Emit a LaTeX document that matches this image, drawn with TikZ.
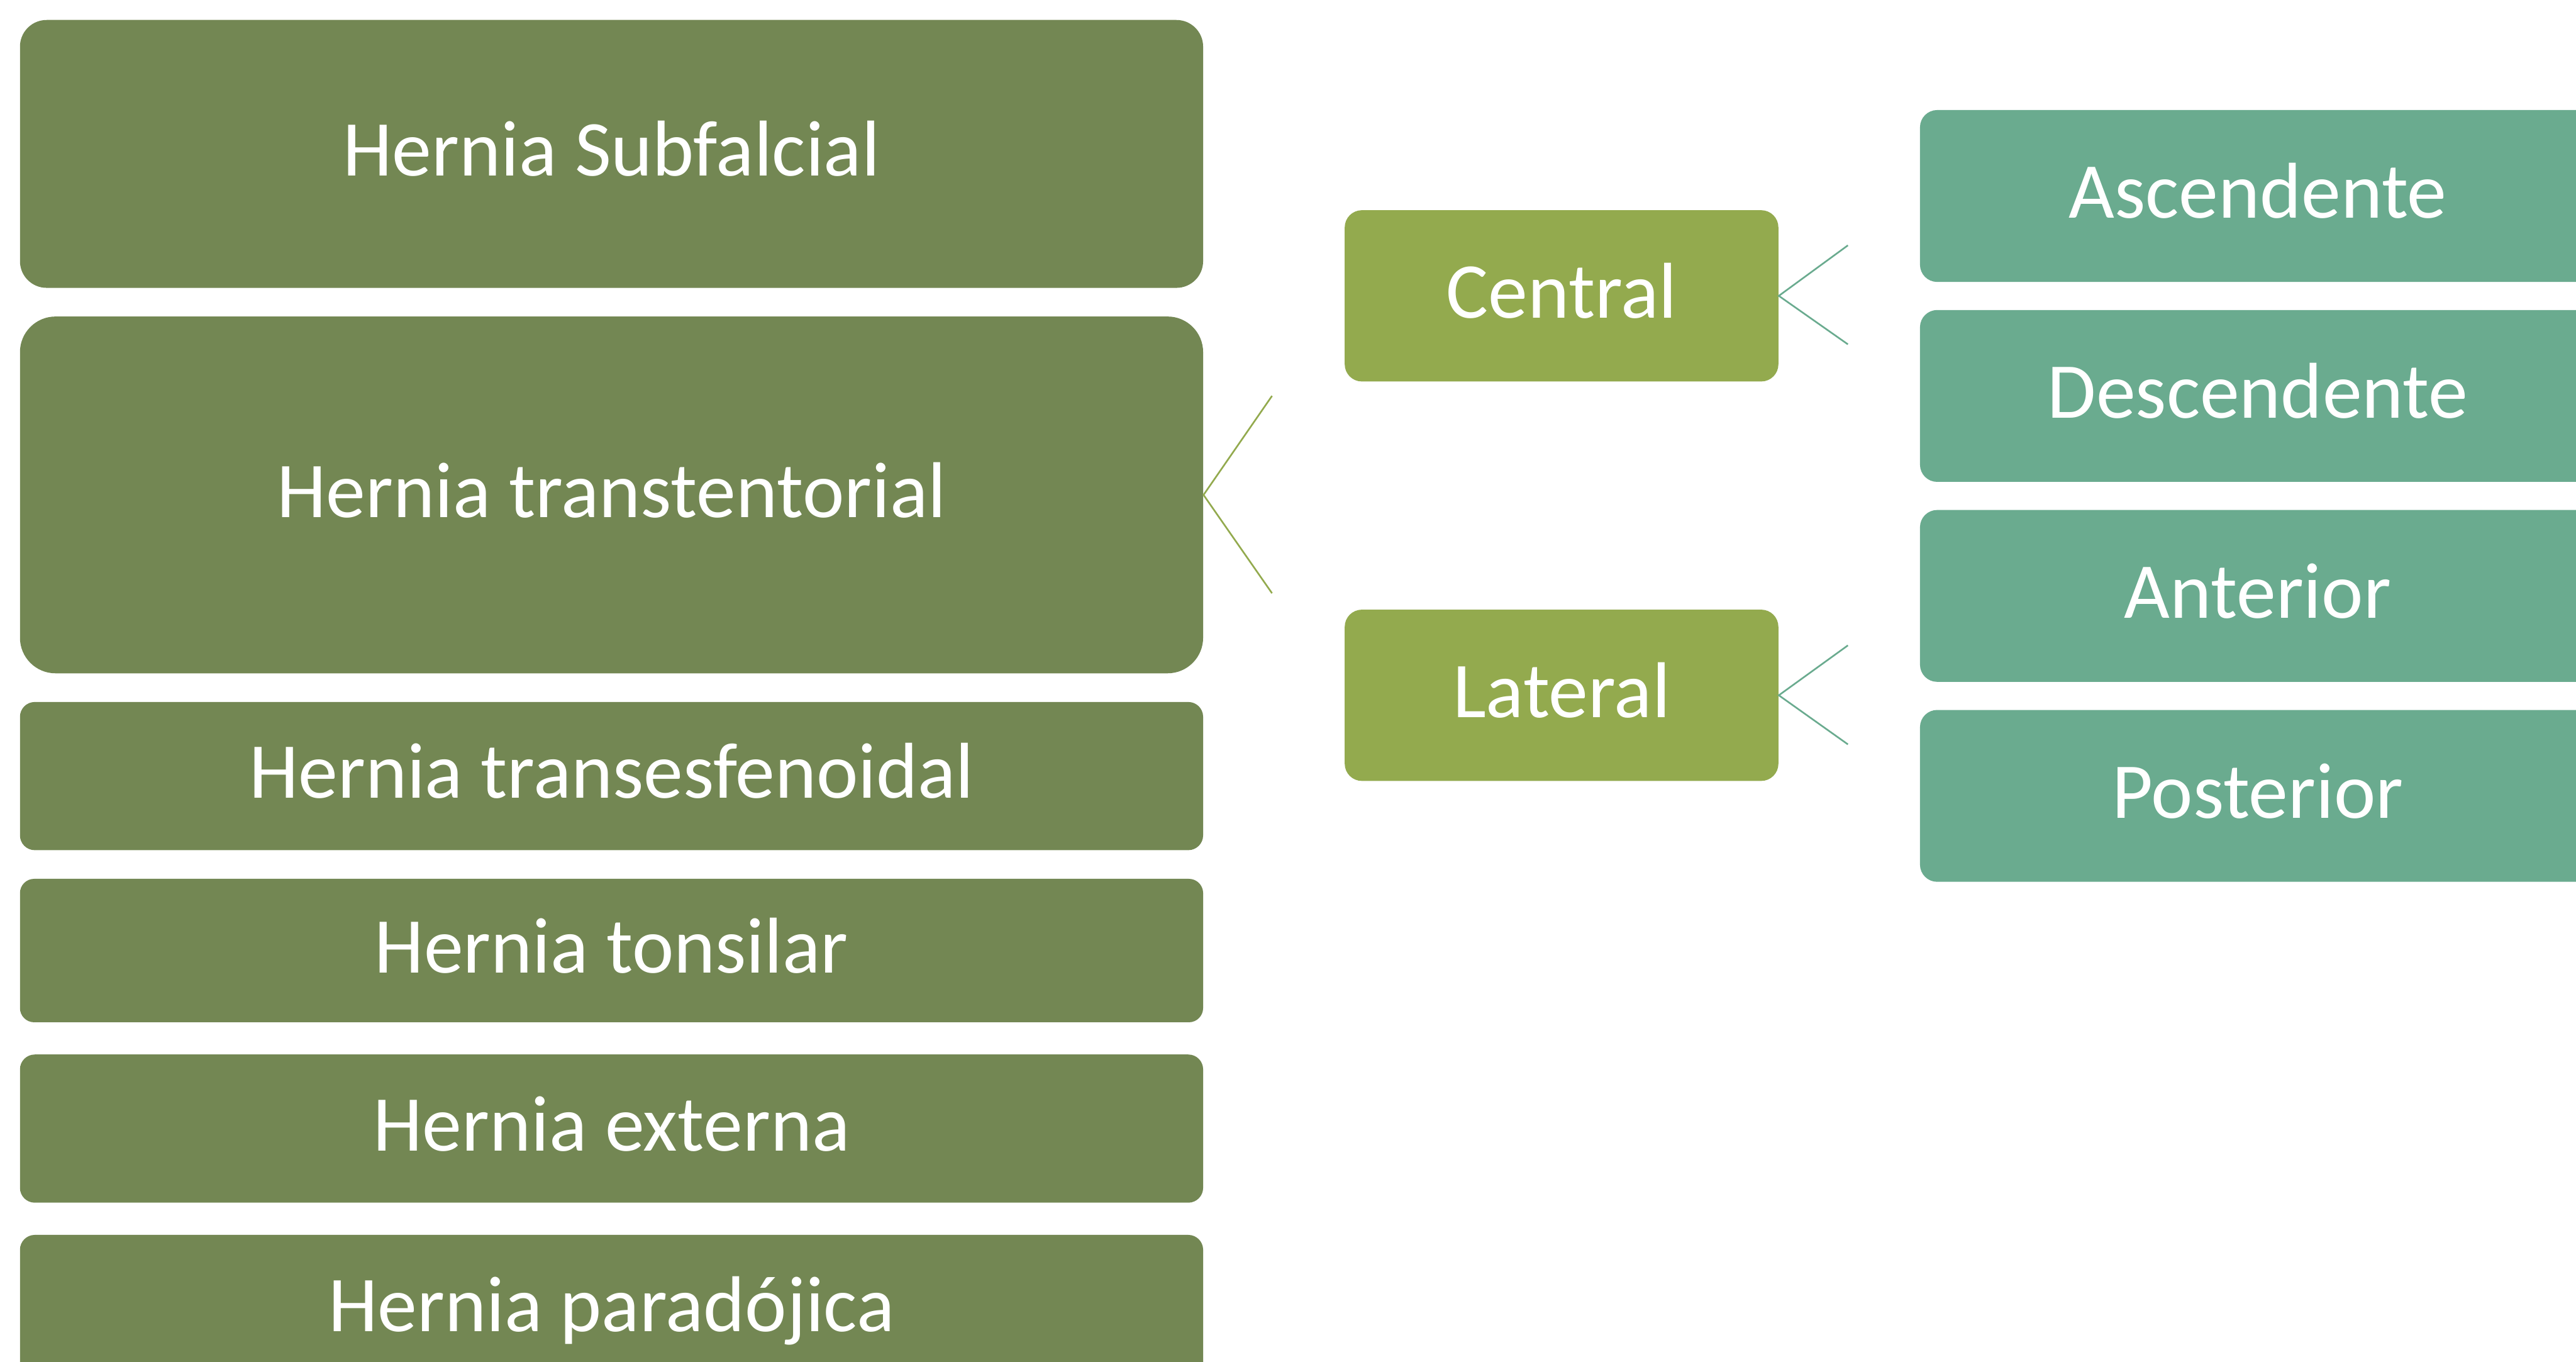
\documentclass[tikz,border=0pt]{standalone}
\usepackage{fontspec}
\setmainfont{Carlito}
\usetikzlibrary{positioning}

\definecolor{herniagreen}{RGB}{115,135,83}
\definecolor{subgreen}{RGB}{147,170,78}
\definecolor{subteal}{RGB}{106,171,143}

\begin{document}
\begin{tikzpicture}[
	font=\fontsize{38}{46}\selectfont,
	every node/.style={text height=1.0cm, text depth=0.25cm},
	herniabox/.style={fill=herniagreen, text=white, minimum width=19.97cm, inner sep=0pt, node distance=0.47cm},
	typebox/.style={fill=subgreen, text=white, rounded corners=0.29cm, minimum width=7.32cm, minimum height=2.89cm, inner sep=0pt},
	leafbox/.style={fill=subteal, text=white, rounded corners=0.29cm, minimum width=11.4cm, minimum height=2.9cm, inner sep=0pt, node distance=0.46cm},
	branch/.style={line width=0.8pt}
]
\useasboundingbox (0,0) rectangle (43.48,-22.98);
\clip (0,0) rectangle (43.48,-22.98);

% left column
\node[herniabox, rounded corners=0.45cm, minimum height=4.52cm, anchor=north west] (subfalcial) at (0.33,-0.33) {Hernia Subfalcial};
\node[herniabox, rounded corners=0.6cm, minimum height=6.02cm, below=of subfalcial] (transtent) {Hernia transtentorial};
\node[herniabox, rounded corners=0.25cm, minimum height=2.5cm, below=of transtent] (transesf) {Hernia transesfenoidal};
\node[herniabox, rounded corners=0.24cm, minimum height=2.42cm, below=of transesf] (tonsilar) {Hernia tonsilar};
\node[herniabox, rounded corners=0.25cm, minimum height=2.5cm, below=0.53cm of tonsilar] (externa) {Hernia externa};
\node[herniabox, rounded corners=0.25cm, minimum height=2.5cm, below=0.53cm of externa] (paradojica) {Hernia paradójica};

% middle column
\node[typebox, anchor=north west] (central) at (22.69,-3.54) {Central};
\node[typebox, anchor=north west] (lateral) at (22.69,-10.28) {Lateral};

% right column
\node[leafbox, anchor=north west] (ascend) at (32.40,-1.85) {Ascendente};
\node[leafbox, below=of ascend] (descend) {Descendente};
\node[leafbox, below=of descend] (anterior) {Anterior};
\node[leafbox, below=of anterior] (posterior) {Posterior};

% connectors
\coordinate (tt1) at (21.47,-6.68);
\coordinate (tt2) at (21.47,-10.01);
\coordinate (ce1) at (31.19,-4.14);
\coordinate (ce2) at (31.19,-5.81);
\coordinate (la1) at (31.19,-10.89);
\coordinate (la2) at (31.19,-12.56);

\draw[branch, subgreen] (tt1) -- (transtent.east) -- (tt2);
\draw[branch, subteal] (ce1) -- (central.east) -- (ce2);
\draw[branch, subteal] (la1) -- (lateral.east) -- (la2);

\end{tikzpicture}
\end{document}
